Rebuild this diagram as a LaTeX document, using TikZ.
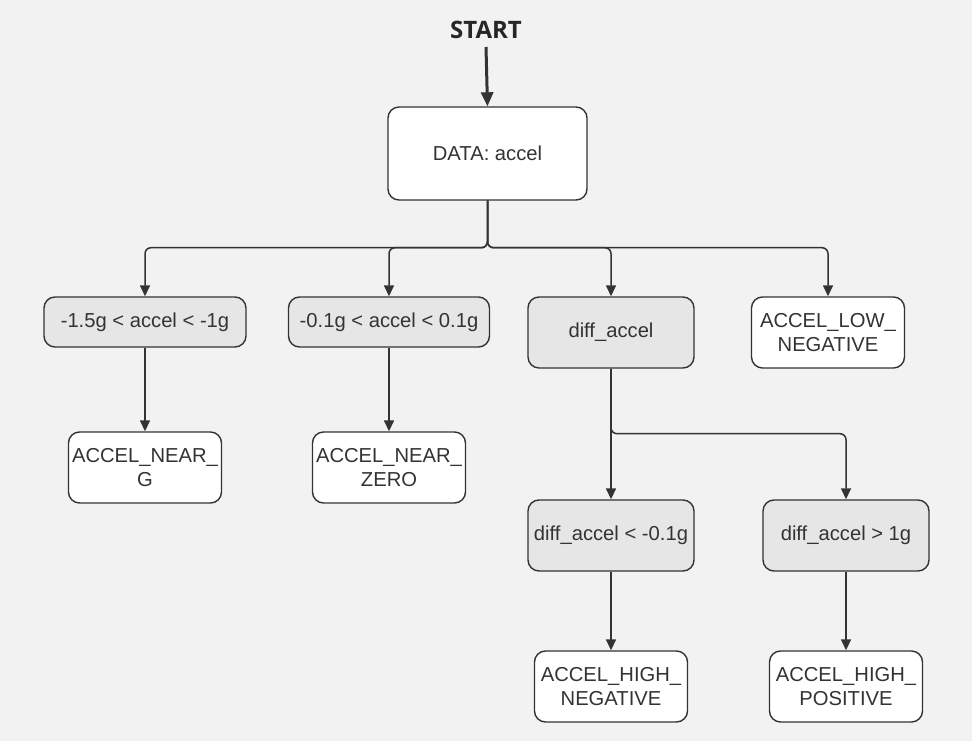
\documentclass[tikz,border=0pt]{standalone}
\usepackage{fontspec}
\setmainfont{Liberation Sans}
\newfontfamily\startfont{Open Sans}
\usetikzlibrary{arrows.meta}
\definecolor{bgc}{HTML}{F2F2F2}
\definecolor{linec}{HTML}{333333}
\definecolor{grayfill}{HTML}{E6E6E6}
\tikzset{
  box/.style={draw=linec, line width=1.4pt, rounded corners=11pt, fill=white,
    text=linec, align=center, inner sep=0pt, font=\fontsize{20.2}{24}\selectfont},
  graybox/.style={box, fill=grayfill},
  arr/.style={draw=linec, line width=1.5pt, rounded corners=6pt,
    -{Triangle[length=11pt,width=10pt]}},
}
\begin{document}
\begin{tikzpicture}[x=1pt,y=-1pt]
\fill[bgc] (0,0) rectangle (972,741);
\useasboundingbox (0,0) rectangle (972,741);

\node[font=\startfont\bfseries\fontsize{24}{28}\selectfont, text=black!85] (start) at (486,30) {START};
\coordinate (startend) at (486,47);

\node[box, minimum width=199pt, minimum height=93pt] (data) at (487.5,153.5) {DATA: accel};

\node[graybox, minimum width=202pt, minimum height=50pt] (b1) at (145,322) {-1.5g < accel < -1g};
\node[graybox, minimum width=201pt, minimum height=50pt] (b2) at (389,322) {-0.1g < accel < 0.1g};
\node[graybox, minimum width=166pt, minimum height=71pt] (b3) at (611,332.5) {diff\_accel};
\node[box, minimum width=153pt, minimum height=71pt] (b4) at (828,332.5) {ACCEL\_LOW\_\\NEGATIVE};

\node[box, minimum width=153pt, minimum height=71pt] (n1) at (145,467.5) {ACCEL\_NEAR\_\\G};
\node[box, minimum width=153pt, minimum height=71pt] (n2) at (389,467.5) {ACCEL\_NEAR\_\\ZERO};

\node[graybox, minimum width=166pt, minimum height=71pt] (d1) at (611,535.5) {diff\_accel < -0.1g};
\node[graybox, minimum width=166pt, minimum height=71pt] (d2) at (846,535.5) {diff\_accel > 1g};

\node[box, minimum width=153pt, minimum height=71pt] (h1) at (611,686.5) {ACCEL\_HIGH\_\\NEGATIVE};
\node[box, minimum width=153pt, minimum height=71pt] (h2) at (846,686.5) {ACCEL\_HIGH\_\\POSITIVE};

% start arrow
\draw[draw=linec, line width=3pt, -{Triangle[length=14pt,width=12pt]}] (startend) -- (data.north);

% data to first row
\draw[arr] (data.south) -- ++(0,47) -| (b1.north);
\draw[arr] (data.south) -- ++(0,47) -| (b2.north);
\draw[arr] (data.south) -- ++(0,47) -| (b3.north);
\draw[arr] (data.south) -- ++(0,47) -| (b4.north);

\draw[arr] (b1.south) -- (b1.south |- n1.north);
\draw[arr] (b2.south) -- (b2.south |- n2.north);

\draw[arr] (b3.south) -- (d1.north);
\draw[arr] (b3.south) -- ++(0,65) -| (d2.north);

\draw[arr] (d1.south) -- (d1.south |- h1.north);
\draw[arr] (d2.south) -- (d2.south |- h2.north);
\end{tikzpicture}
\end{document}
